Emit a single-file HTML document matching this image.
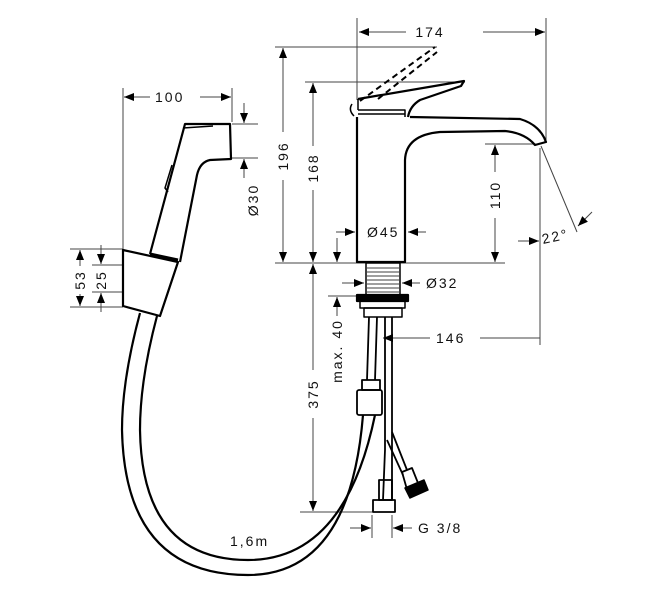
<!DOCTYPE html>
<html><head><meta charset="utf-8"><style>
html,body{margin:0;padding:0;background:#fff;}
svg{display:block;}
text{font-family:"Liberation Sans",sans-serif;font-size:14px;fill:#111;letter-spacing:2px;}
.m{text-anchor:middle;}
</style></head><body>
<svg width="661" height="600" viewBox="0 0 661 600" xmlns="http://www.w3.org/2000/svg">
<defs>
<marker id="a" viewBox="0 0 10 10" refX="10" refY="5" markerWidth="10" markerHeight="10" orient="auto-start-reverse" markerUnits="userSpaceOnUse"><path d="M0,1 L10,5 L0,9 z" fill="#000"/></marker>
</defs>
<g stroke="#444" stroke-width="1" fill="none">
<line x1="357" y1="18" x2="357" y2="100"/>
<line x1="546" y1="18" x2="546" y2="140"/>
<line x1="275" y1="47" x2="437" y2="47"/>
<line x1="305" y1="82" x2="465" y2="82"/>
<line x1="275" y1="263" x2="505" y2="263"/>
<line x1="485" y1="144" x2="538" y2="144"/>
<line x1="540" y1="148" x2="540" y2="345"/>
<line x1="541" y1="146" x2="577" y2="232"/>
<line x1="328" y1="296" x2="356" y2="296"/>
<line x1="300" y1="512" x2="380" y2="512"/>
<line x1="372" y1="515" x2="372" y2="538"/>
<line x1="392" y1="515" x2="392" y2="538"/>
<line x1="123" y1="88" x2="123" y2="250"/>
<line x1="232" y1="88" x2="232" y2="122"/>
<line x1="232" y1="124" x2="258" y2="124"/>
<line x1="232" y1="158" x2="258" y2="158"/>
<line x1="70" y1="249" x2="123" y2="249"/>
<line x1="70" y1="307" x2="123" y2="307"/>
<line x1="92" y1="265" x2="123" y2="265"/>
<line x1="92" y1="292" x2="123" y2="292"/>
<line x1="359" y1="32" x2="406" y2="32" marker-start="url(#a)"/>
<line x1="483" y1="32" x2="545" y2="32" marker-end="url(#a)"/>
<line x1="283" y1="48" x2="283" y2="132" marker-start="url(#a)"/>
<line x1="283" y1="180" x2="283" y2="262" marker-end="url(#a)"/>
<line x1="313" y1="83" x2="313" y2="146" marker-start="url(#a)"/>
<line x1="313" y1="190" x2="313" y2="262" marker-end="url(#a)"/>
<line x1="313" y1="264" x2="313" y2="370" marker-start="url(#a)"/>
<line x1="313" y1="418" x2="313" y2="511" marker-end="url(#a)"/>
<line x1="495" y1="145" x2="495" y2="172" marker-start="url(#a)"/>
<line x1="495" y1="218" x2="495" y2="262" marker-end="url(#a)"/>
<line x1="336" y1="232" x2="355" y2="232" marker-end="url(#a)"/>
<line x1="426" y1="232" x2="408" y2="232" marker-end="url(#a)"/>
<line x1="337" y1="238" x2="337" y2="262" marker-end="url(#a)"/>
<line x1="337" y1="297" x2="337" y2="316" marker-start="url(#a)"/>
<line x1="342" y1="283" x2="364" y2="283" marker-end="url(#a)"/>
<line x1="420" y1="283" x2="402" y2="283" marker-end="url(#a)"/>
<line x1="430" y1="338" x2="383" y2="338" marker-end="url(#a)"/>
<line x1="480" y1="338" x2="540" y2="338"/>
<line x1="518" y1="241" x2="539" y2="241" marker-end="url(#a)"/>
<line x1="592" y1="212" x2="578" y2="226" marker-end="url(#a)"/>
<line x1="350" y1="528" x2="371" y2="528" marker-end="url(#a)"/>
<line x1="412" y1="528" x2="393" y2="528" marker-end="url(#a)"/>
<line x1="124" y1="97" x2="150" y2="97" marker-start="url(#a)"/>
<line x1="200" y1="97" x2="231" y2="97" marker-end="url(#a)"/>
<line x1="244" y1="103" x2="244" y2="123" marker-end="url(#a)"/>
<line x1="244" y1="178" x2="244" y2="159" marker-end="url(#a)"/>
<line x1="80" y1="250" x2="80" y2="266" marker-start="url(#a)"/>
<line x1="80" y1="294" x2="80" y2="306" marker-end="url(#a)"/>
<line x1="101" y1="245" x2="101" y2="264" marker-end="url(#a)"/>
<line x1="101" y1="312" x2="101" y2="293" marker-end="url(#a)"/>
</g>
<g stroke="#000" stroke-width="2.2" fill="none" stroke-linejoin="round">
<path d="M357,117 L357,262 L405,262 L405,160 Q406,135 440,132 L505,131 Q525,133 535,145 L546,142 Q540,125 520,119 L410,117"/>
<path d="M358,99 L464,81 L461,86 L420,100 Q410,106 408,117"/>
<path d="M358,99 L358,110 M358,110 L405,110 L405,117 M358,114 L405,114" stroke-width="1.5"/>
<path d="M360,101 L435,47 M378,99 L437,52" stroke-dasharray="6,4" stroke-width="2"/>
<path d="M352,104 Q348,110 354,116" stroke-width="1.5"/>
<rect x="366" y="263" width="34" height="32" stroke-width="1.5"/>
<path d="M367,268 H399 M367,272 H399 M367,276 H399 M367,280 H399 M367,284 H399 M367,288 H399 M367,292 H399" stroke-width="0.8"/>
<rect x="357" y="295" width="51" height="6" fill="#000"/>
<rect x="360" y="301" width="45" height="7" stroke-width="1.5"/>
<rect x="364" y="308" width="38" height="9" stroke-width="1.5"/>
<path d="M369,317 L367,380 M377,317 L375,380 M385,317 L385,450 L383,500 M392,317 L392,500" stroke-width="1.8"/>
<path d="M392,432 L407,470 M387,440 L403,475" stroke-width="1.8"/>
<rect x="362" y="380" width="18" height="10" stroke-width="1.8"/>
<rect x="357" y="390" width="25" height="25" rx="2" stroke-width="1.8"/>
<rect x="379" y="480" width="13" height="20" stroke-width="1.8"/>
<rect x="373" y="500" width="22" height="12" stroke-width="1.8"/>
<path d="M402,472 L412,468 L420,488 L408,493 Z" stroke-width="1.8"/>
<path d="M405,488 L424,480 L428,490 L410,498 Z" fill="#000" stroke-width="1.5"/>
<path d="M140,313 Q122,380 122,430 Q125,575 248,575 Q350,575 363,415"/>
<path d="M157,316 Q140,380 140,430 Q142,560 248,560 Q345,560 375,415"/>
<path d="M123,250 L178,262 L160,316 L123,306 Z"/>
<path d="M150,254 L185,124 L230,124 L231,159 L210,160 Q200,162 197,175 L180,262"/>
<path d="M183,128 L213,126 M172,165 L165,188 L168,192" stroke-width="1.5"/>
<path d="M150,254 L178,260" stroke-width="3"/>
</g>
<g>
<text x="430" y="37" class="m">174</text>
<text class="m" transform="translate(288 156) rotate(-90)">196</text>
<text class="m" transform="translate(318 168) rotate(-90)">168</text>
<text class="m" transform="translate(500 195) rotate(-90)">110</text>
<text x="367" y="237">Ø45</text>
<text x="426" y="288">Ø32</text>
<text x="436" y="343">146</text>
<text class="m" transform="translate(318 394) rotate(-90)">375</text>
<text class="m" transform="translate(342 351) rotate(-90)">max. 40</text>
<text x="543" y="244" transform="rotate(-12 543 244)">22°</text>
<text x="418" y="533">G 3/8</text>
<text x="230" y="546">1,6m</text>
<text x="155" y="102">100</text>
<text class="m" transform="translate(258 200) rotate(-90)">Ø30</text>
<text class="m" transform="translate(85 280) rotate(-90)">53</text>
<text class="m" transform="translate(106 280) rotate(-90)">25</text>
</g>
</svg>
</body></html>
